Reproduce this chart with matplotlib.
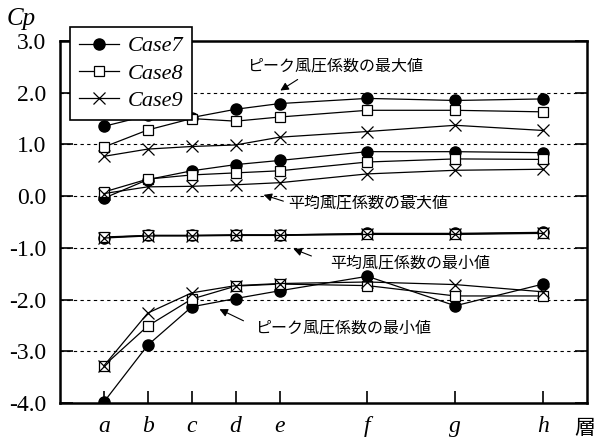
import matplotlib.pyplot as plt
import numpy as np

plt.rcParams['axes.unicode_minus'] = False

# floors (x positions on the layer axis)
floors = ['a', 'b', 'c', 'd', 'e', 'f', 'g', 'h']
x_pos = [1, 2, 3, 4, 5, 7, 9, 11]

# peak max / mean max / mean min / peak min for each case
case7_peak_max = [1.35, 1.56, 1.52, 1.68, 1.79, 1.89, 1.85, 1.88]
case8_peak_max = [0.95, 1.28, 1.50, 1.45, 1.53, 1.66, 1.66, 1.63]
case9_peak_max = [0.77, 0.91, 0.96, 0.99, 1.14, 1.25, 1.37, 1.27]

case7_mean_max = [-0.04, 0.32, 0.49, 0.61, 0.69, 0.86, 0.86, 0.84]
case8_mean_max = [0.08, 0.33, 0.41, 0.45, 0.49, 0.66, 0.72, 0.71]
case9_mean_max = [0.05, 0.18, 0.19, 0.22, 0.26, 0.43, 0.50, 0.52]

case7_mean_min = [-0.80, -0.76, -0.76, -0.75, -0.75, -0.72, -0.72, -0.70]
case8_mean_min = [-0.79, -0.76, -0.76, -0.75, -0.75, -0.73, -0.73, -0.71]
case9_mean_min = [-0.81, -0.77, -0.77, -0.76, -0.76, -0.74, -0.74, -0.72]

case7_peak_min = [-3.98, -2.88, -2.14, -1.98, -1.83, -1.55, -2.12, -1.70]
case8_peak_min = [-3.28, -2.51, -1.99, -1.74, -1.70, -1.73, -1.93, -1.93]
case9_peak_min = [-3.28, -2.26, -1.87, -1.73, -1.69, -1.66, -1.71, -1.85]

yticks = [3.0, 2.0, 1.0, 0.0, -1.0, -2.0, -3.0, -4.0]

serif = 'Liberation Serif'
jp = 'Noto Sans CJK JP'

fig = plt.figure(figsize=(5.97, 4.44), dpi=100)
ax = fig.add_axes([60 / 597, 1 - 403 / 444, 527 / 597, 362 / 444])

styles = {
    'Case7': dict(marker='o', markersize=8, markerfacecolor='black', markeredgecolor='black'),
    'Case8': dict(marker='s', markersize=7.5, markerfacecolor='white', markeredgecolor='black', markeredgewidth=0.9),
    'Case9': dict(marker='x', markersize=8, markeredgecolor='black', markeredgewidth=0.9),
}
groups = {
    'Case7': [case7_peak_max, case7_mean_max, case7_mean_min, case7_peak_min],
    'Case8': [case8_peak_max, case8_mean_max, case8_mean_min, case8_peak_min],
    'Case9': [case9_peak_max, case9_mean_max, case9_mean_min, case9_peak_min],
}
for z, (name, series) in enumerate(groups.items()):
    for i, vals in enumerate(series):
        ax.plot(x_pos, vals, color='black', linewidth=0.9, zorder=3 + z,
                label=name if i == 0 else None, **styles[name])

for y in [2.0, 1.0, 0.0, -1.0, -2.0, -3.0]:
    ax.axhline(y, color='black', linestyle=(0, (3, 3)), linewidth=0.8, zorder=1)

ax.set_xlim(0, 12)
ax.set_ylim(-4.0, 3.0)
ax.set_xticks(x_pos)
ax.set_xticklabels(floors, fontfamily=serif, fontstyle='italic', fontsize=17)
ax.set_yticks(yticks)
ax.set_yticklabels([f'{v:.1f}' for v in yticks], fontfamily=serif, fontsize=17)
ax.tick_params(axis='both', direction='in', length=9, width=1.2, right=True)
ax.tick_params(axis='x', pad=9)
ax.tick_params(axis='y', pad=10)
for s in ax.spines.values():
    s.set_linewidth(1.8)

fig.text(7 / 597, 1 - 19 / 444, 'Cp', fontfamily=serif, fontstyle='italic', fontsize=18, va='center')
fig.text(574 / 597, 1 - 428 / 444, '層', fontfamily=jp, fontsize=15, va='center')

# annotations
ann = [
    ('ピーク風圧係数の最大値', (247, 66), (300, 78), (278, 92)),
    ('平均風圧係数の最大値', (288, 203), (286, 202), (261, 194)),
    ('平均風圧係数の最小値', (330, 263), (314, 257), (291, 248)),
    ('ピーク風圧係数の最小値', (255, 328), (246, 322), (217, 308)),
]
for txt, tpos, tail, tip in ann:
    fig.text(tpos[0] / 597, 1 - tpos[1] / 444, txt, fontfamily=jp, fontsize=11.5, va='center')
    ax.annotate('', xy=(tip[0], 444 - tip[1]), xycoords='figure pixels',
                xytext=(tail[0], 444 - tail[1]), textcoords='figure pixels',
                arrowprops=dict(arrowstyle='-|>', color='black', lw=0.8, mutation_scale=12))

leg = ax.legend(loc='upper left', bbox_to_anchor=(70 / 597, 1 - 27 / 444),
                bbox_transform=fig.transFigure, prop=dict(family=serif, style='italic', size=16),
                frameon=True, fancybox=False, edgecolor='black', framealpha=1,
                handlelength=1.8, labelspacing=0.3, borderpad=0.4, handletextpad=0.4,
                borderaxespad=0)
leg.get_frame().set_linewidth(1.2)
leg.set_zorder(10)

fig.savefig('out.png', dpi=100)
